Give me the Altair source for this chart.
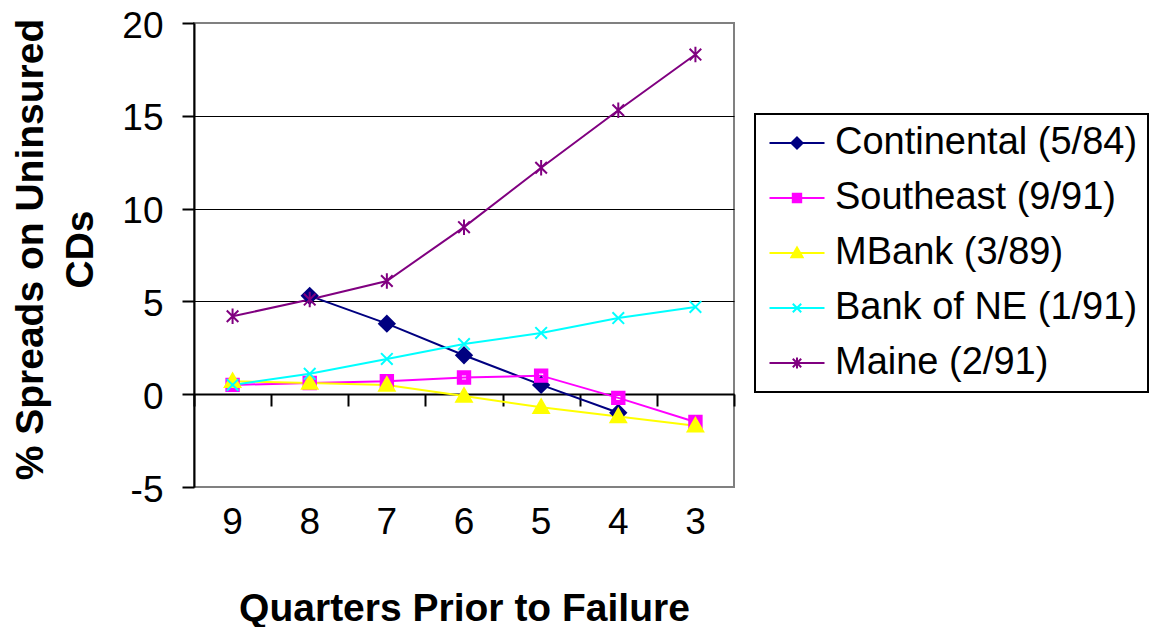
import altair as alt
import pandas as pd

# ---------------- data ----------------
quarters = [9, 8, 7, 6, 5, 4, 3]
banks = ["Continental (5/84)", "Southeast (9/91)", "MBank (3/89)",
         "Bank of NE (1/91)", "Maine (2/91)"]
continental = [None, 5.3, 3.8, 2.1, 0.5, -1.0, None]
southeast = [0.5, 0.6, 0.7, 0.9, 1.0, -0.2, -1.5]
mbank = [0.7, 0.6, 0.5, -0.1, -0.7, -1.2, -1.7]
bank_ne = [0.5, 1.1, 1.9, 2.7, 3.3, 4.1, 4.7]
maine = [4.2, 5.1, 6.1, 9.0, 12.2, 15.3, 18.3]
y_ticks = [-5, 0, 5, 10, 15, 20]

# ---------------- styles ----------------
colors = ["#000080", "#FF00FF", "#FFFF00", "#00FFFF", "#800080"]
fills = ["#000080", "#FF00FF", "#FFFF00", "#00FFFF", "#800080"]

marker_paths = [
    "M0,-1L1,0L0,1L-1,0Z",
    "M-0.8,-0.8H0.8V0.8H-0.8ZM-0.4,-0.4V0.4H0.4V-0.4Z",
    "M0,-1L1,0.75L-1,0.75Z",
    "M-0.75,-0.75L0.75,0.75M-0.75,0.75L0.75,-0.75",
    "M-0.75,-0.75L0.75,0.75M-0.75,0.75L0.75,-0.75M0,-1V1",
]
LINE = "M-3.93,0H3.93"
legend_paths = [
    LINE + "M0,-0.8L0.8,0L0,0.8L-0.8,0Z",
    LINE + "M-0.6,-0.6H0.6V0.6H-0.6ZM-0.3,-0.3V0.3H0.3V-0.3Z",
    LINE + "M0,-0.8L0.8,0.6L-0.8,0.6Z",
    LINE + "M-0.6,-0.6L0.6,0.6M-0.6,0.6L0.6,-0.6",
    LINE + "M-0.6,-0.6L0.6,0.6M-0.6,0.6L0.6,-0.6M0,-0.8V0.8",
]

series = [continental, southeast, mbank, bank_ne, maine]
rows = []
for name, vals in zip(banks, series):
    for q, v in zip(quarters, vals):
        if v is not None:
            rows.append({"bank": name, "quarter": q, "value": v})
df = pd.DataFrame(rows)

FONT = "Liberation Sans"

x_scale = alt.Scale(type="band", domain=quarters, paddingInner=0, paddingOuter=0)
y_scale = alt.Scale(domain=[-5, 20], nice=False, zero=False)

y_axis = alt.Axis(
    values=y_ticks,
    labelExpr="'' + datum.value",
    title=["% Spreads on Uninsured", "CDs"],
    domainColor="black", domainWidth=2,
    tickColor="black", tickWidth=2, tickSize=12,
    labelFont=FONT, labelFontSize=37, labelColor="black", labelPadding=19,
    labelOffset=3,
    grid=True, gridColor="black", gridWidth=1,
    gridOpacity={"condition": {"test": "datum.value == -5 || datum.value == 20", "value": 0}, "value": 1},
    titleFont=FONT, titleFontSize=39, titleFontWeight="bold", titleColor="black",
    titleLineHeight=50, titleX=-152, titleY=226, titleAngle=270,
    titleAlign="center", titleBaseline="alphabetic",
)

x_label_axis = alt.Axis(
    orient="bottom", title="Quarters Prior to Failure",
    domain=False, ticks=False, grid=False, labelAngle=0,
    labelFont=FONT, labelFontSize=37, labelColor="black", labelPadding=17,
    titleFont=FONT, titleFontSize=39, titleFontWeight="bold", titleColor="black",
    titleX=270, titleY=133, titleAlign="center", titleBaseline="alphabetic",
)

x_zero_axis = alt.Axis(
    orient="bottom", offset=-93, title=None, labels=False, grid=False,
    domain=True, domainColor="black", domainWidth=2,
    ticks=True, tickBand="extent", tickColor="black", tickWidth=2, tickSize=12,
)

lines = alt.Chart(df).mark_line(strokeWidth=2).encode(
    x=alt.X("quarter:O", scale=x_scale, axis=x_label_axis),
    y=alt.Y("value:Q", scale=y_scale, axis=y_axis),
    color=alt.Color("bank:N", scale=alt.Scale(domain=banks, range=colors), legend=None),
)

points = alt.Chart(df).mark_point(filled=True, size=240, strokeWidth=2, opacity=1).encode(
    x=alt.X("quarter:O", scale=x_scale, axis=x_zero_axis),
    y=alt.Y("value:Q", scale=y_scale, axis=y_axis),
    shape=alt.Shape("bank:N", scale=alt.Scale(domain=banks, range=marker_paths), legend=None),
    fill=alt.Fill("bank:N", scale=alt.Scale(domain=banks, range=fills), legend=None),
    stroke=alt.Stroke("bank:N", scale=alt.Scale(domain=banks, range=colors), legend=None),
)

leg = dict(
    orient="none", legendX=561, legendY=91, title=None,
    strokeColor="black", padding=10, rowPadding=17,
    symbolSize=196, symbolStrokeWidth=2, symbolOffset=13, labelOffset=19,
    labelFont=FONT, labelFontSize=38, labelColor="black", labelLimit=600,
)

legend_layer = alt.Chart(df).transform_filter("false").mark_point(
    filled=True, size=196, strokeWidth=2, opacity=1
).encode(
    x=alt.X("quarter:O", scale=x_scale, axis=None),
    y=alt.Y("value:Q", scale=y_scale, axis=y_axis),
    shape=alt.Shape("bank:N", scale=alt.Scale(domain=banks, range=legend_paths), legend=alt.Legend(**leg)),
    fill=alt.Fill("bank:N", scale=alt.Scale(domain=banks, range=fills), legend=alt.Legend(**leg)),
    stroke=alt.Stroke("bank:N", scale=alt.Scale(domain=banks, range=colors), legend=alt.Legend(**leg)),
)

chart = alt.layer(lines, points, legend_layer).resolve_scale(
    shape="independent", fill="independent", stroke="independent"
).resolve_axis(x="independent").properties(
    width=540, height=464,
    autosize=alt.AutoSizeParams(type="none"),
    padding={"left": 186, "top": 15, "right": 417, "bottom": 140},
    background="white",
).configure_view(
    stroke="#808080", strokeWidth=2
).configure_legend(strokeWidth=2)

chart.save("out.html", embed_options={"renderer": "svg", "actions": False})
